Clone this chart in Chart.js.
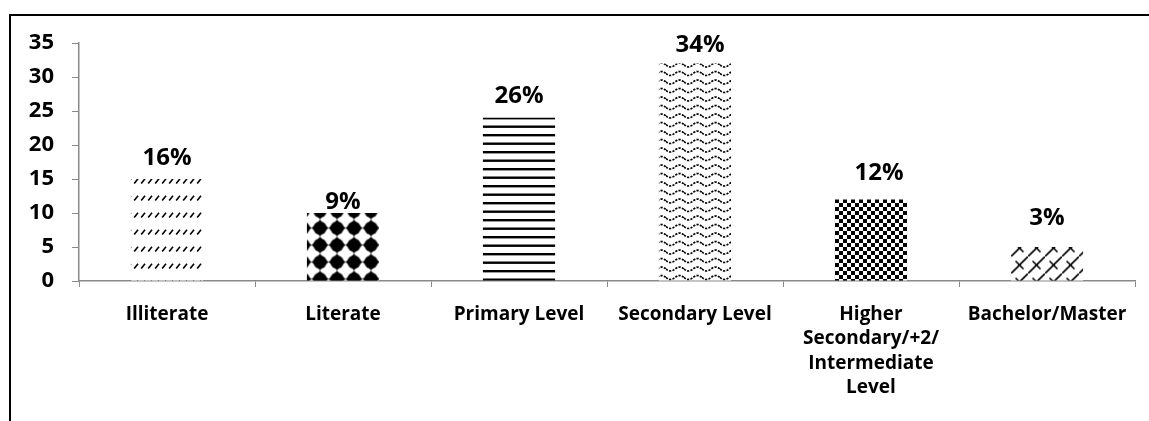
<!DOCTYPE html>
<html>
<head>
<meta charset="utf-8">
<script src="https://cdn.jsdelivr.net/npm/chart.js@4.4.1/dist/chart.umd.min.js"></script>
<style>
  html, body { margin: 0; padding: 0; background: #fff; }
  #wrap { position: relative; width: 1149px; height: 421px; overflow: hidden; }
  #frame { position: absolute; left: 9px; top: 14px; width: 1300px; height: 600px;
           border-left: 2px solid #000; border-top: 2px solid #000; pointer-events: none; }
  canvas { position: absolute; left: 0; top: 0; }
</style>
</head>
<body>
<div id="wrap">
  <canvas id="chart" width="1149" height="421"></canvas>
  <div id="frame"></div>
</div>
<script>
// Education level of respondents
const categories = [
  "Illiterate",
  "Literate",
  "Primary Level",
  "Secondary Level",
  ["Higher", "Secondary/+2/", "Intermediate", "Level"],
  "Bachelor/Master"
];
const counts = [15, 10, 24, 32, 12, 5];
const shareLabels = ["16%", "9%", "26%", "34%", "12%", "3%"];
const yTicks = [0, 5, 10, 15, 20, 25, 30, 35];

const FONT = "'Open Sans', Lato, sans-serif";

function tile(w, h, draw) {
  const c = document.createElement("canvas");
  c.width = w; c.height = h;
  const g = c.getContext("2d");
  g.fillStyle = "#fff"; g.fillRect(0, 0, w, h);
  g.fillStyle = "#000"; g.strokeStyle = "#000";
  draw(g, w, h);
  return c;
}

const ctx = document.getElementById("chart").getContext("2d");

function pattern(canvas, dx, dy) {
  const p = ctx.createPattern(canvas, "repeat");
  p.setTransform(new DOMMatrix().translate(dx, dy));
  return p;
}

// four-point star used by the "Literate" fill
function star(g, cx, cy) {
  g.beginPath();
  g.moveTo(cx, cy - 8.5); g.lineTo(cx + 3, cy - 4.5);
  g.lineTo(cx + 8.5, cy); g.lineTo(cx + 3, cy + 4.5);
  g.lineTo(cx, cy + 8.5); g.lineTo(cx - 3, cy + 4.5);
  g.lineTo(cx - 8.5, cy); g.lineTo(cx - 3, cy - 4.5);
  g.closePath(); g.fill();
  g.beginPath(); g.arc(cx, cy, 6.6, 0, Math.PI * 2); g.fill();
}

// Hatch fills, one per bar
const fills = [
  // short dashed slashes in rows
  pattern(tile(7, 17, (g) => {
    g.lineWidth = 1.6;
    g.beginPath(); g.moveTo(1.2, 6.5); g.lineTo(5, 1.8); g.stroke();
  }), 0, 177),
  // black four-point stars
  pattern(tile(17, 17, (g) => { star(g, 8.5, 8.5); }), 311.5, 202.5),
  // horizontal lines
  pattern(tile(4, 17, (g) => {
    g.fillRect(0, 0, 4, 2.4);
    g.fillRect(0, 8.5, 4, 2.4);
  }), 0, 117),
  // dotted waves
  pattern(tile(18, 17, (g) => {
    g.lineWidth = 1.7;
    g.setLineDash([2.2, 1.3]);
    [3, 11.5].forEach((y0) => {
      g.beginPath();
      for (let x = 0; x <= 18; x += 0.5) {
        const y = y0 + 2.0 * Math.sin((x / 18) * Math.PI * 2);
        if (x === 0) g.moveTo(x, y); else g.lineTo(x, y);
      }
      g.stroke();
    });
  }), 0, 62),
  // small checkerboard
  pattern(tile(8, 8, (g) => {
    g.fillRect(0, 0, 4, 4);
    g.fillRect(4, 4, 4, 4);
  }), 835, 199),
  // diagonal trellis
  pattern(tile(17, 17, (g) => {
    g.lineWidth = 1.6;
    g.beginPath(); g.moveTo(-1, 18); g.lineTo(18, -1); g.stroke();
    g.beginPath(); g.moveTo(4.5, 4.5); g.lineTo(12.5, 12.5); g.stroke();
  }), 1011, 239.5)
];

// Percentage labels drawn above each bar
const shareLabelPlugin = {
  id: "shareLabels",
  afterDatasetsDraw(chart, args, opts) {
    const meta = chart.getDatasetMeta(0);
    const c = chart.ctx;
    c.save();
    c.font = "bold 24px " + FONT;
    c.fillStyle = "#000";
    c.textAlign = "center";
    c.textBaseline = "middle";
    meta.data.forEach((bar, i) => {
      c.fillText(shareLabels[i], bar.x + opts.dx[i], bar.y - opts.dy[i]);
    });
    c.restore();
  }
};

new Chart(ctx, {
  type: "bar",
  data: {
    labels: categories,
    datasets: [{
      data: counts,
      backgroundColor: fills,
      borderWidth: 0,
      barPercentage: 0.41,
      categoryPercentage: 1
    }]
  },
  options: {
    responsive: false,
    animation: false,
    layout: { padding: { left: 0, right: 14, top: 43, bottom: 0 } },
    plugins: {
      legend: { display: false },
      tooltip: { enabled: false },
      shareLabels: { dx: [0, 0, 0, 5, 8, 0], dy: [21, 11, 22, 18, 26, 29] }
    },
    scales: {
      x: {
        grid: { display: true, drawOnChartArea: false, drawTicks: true, tickLength: 6, color: "#898989", offset: true },
        border: { display: true, color: "#898989", width: 1.5 },
        ticks: {
          color: "#000", font: { family: FONT, size: 19, weight: "bold", lineHeight: 1.29 },
          padding: 15, maxRotation: 0, autoSkip: false
        },
        afterFit(scale) { scale.height = 140; }
      },
      y: {
        min: 0, max: 35,
        grid: { display: true, drawOnChartArea: false, drawTicks: true, tickLength: 7, color: "#898989" },
        border: { display: true, color: "#898989", width: 1.5 },
        ticks: {
          stepSize: 5, color: "#000", padding: 18,
          font: { family: FONT, size: 22, weight: "bold" },
          callback: (v) => (yTicks.includes(v) ? String(v) : "")
        },
        afterFit(scale) { scale.width = 79; }
      }
    }
  },
  plugins: [shareLabelPlugin]
});
</script>
</body>
</html>
